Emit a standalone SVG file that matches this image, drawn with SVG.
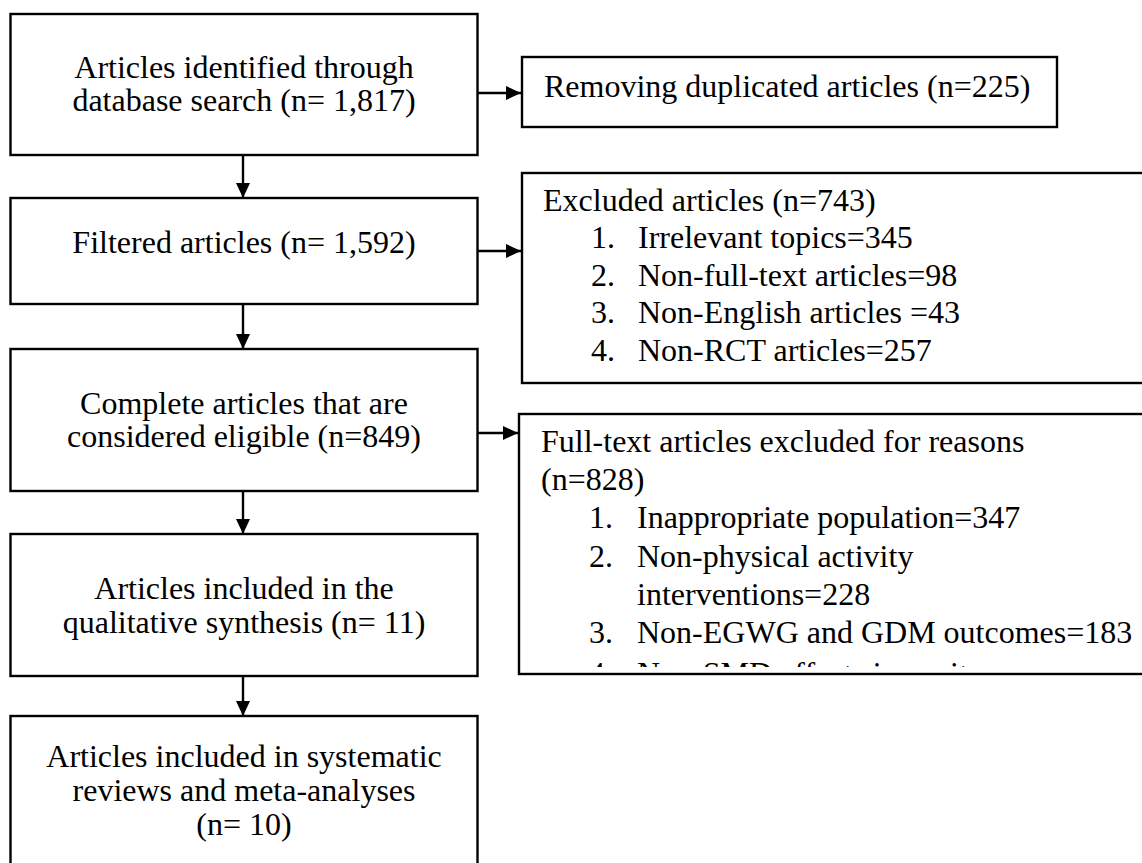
<svg xmlns="http://www.w3.org/2000/svg" width="1142" height="863" viewBox="0 0 1142 863">
<style>
.box{fill:#fff;stroke:#000;stroke-width:2.4}
.t{font-family:"Liberation Serif","Times New Roman",serif;font-size:32px;fill:#000}
.c{text-anchor:middle}
.ln{stroke:#000;stroke-width:2.4;fill:none}
</style>
<defs>
<marker id="ah" markerWidth="15" markerHeight="14" refX="15" refY="7" orient="auto" markerUnits="userSpaceOnUse">
<path d="M0,0 L15,7 L0,14 Z" fill="#000"/>
</marker>
<clipPath id="cut"><rect x="519" y="414" width="640" height="253"/></clipPath>
</defs>
<rect width="1142" height="863" fill="#fff"/>

<g id="connectors">
<line class="ln" x1="243" y1="155" x2="243" y2="198" marker-end="url(#ah)"/>
<line class="ln" x1="243" y1="304" x2="243" y2="349" marker-end="url(#ah)"/>
<line class="ln" x1="243" y1="491" x2="243" y2="534" marker-end="url(#ah)"/>
<line class="ln" x1="243" y1="676" x2="243" y2="716" marker-end="url(#ah)"/>
<line class="ln" x1="478" y1="93" x2="521" y2="93" marker-end="url(#ah)"/>
<line class="ln" x1="478" y1="251" x2="521" y2="251" marker-end="url(#ah)"/>
<line class="ln" x1="478" y1="433" x2="518" y2="433" marker-end="url(#ah)"/>
</g>

<g id="n1">
<rect class="box" x="10.5" y="14" width="467" height="141"/>
<text class="t c" x="244" y="78">Articles identified through</text>
<text class="t c" x="244" y="110.5">database search (n= 1,817)</text>
</g>

<g id="n2">
<rect class="box" x="10.5" y="198" width="467" height="106"/>
<text class="t c" x="244" y="253">Filtered articles (n= 1,592)</text>
</g>

<g id="n3">
<rect class="box" x="10.5" y="349" width="467" height="142"/>
<text class="t c" x="244" y="414">Complete articles that are</text>
<text class="t c" x="244" y="447">considered eligible (n=849)</text>
</g>

<g id="n4">
<rect class="box" x="10.5" y="534" width="467" height="142"/>
<text class="t c" x="244" y="599">Articles included in the</text>
<text class="t c" x="244" y="633">qualitative synthesis (n= 11)</text>
</g>

<g id="n5">
<rect class="box" x="10.5" y="716" width="467" height="170"/>
<text class="t c" x="244" y="767">Articles included in systematic</text>
<text class="t c" x="244" y="801">reviews and meta-analyses</text>
<text class="t c" x="244" y="835">(n= 10)</text>
</g>

<g id="r1">
<rect class="box" x="522" y="57" width="535" height="70"/>
<text class="t" x="544" y="97">Removing duplicated articles (n=225)</text>
</g>

<g id="r2">
<rect class="box" x="522" y="173" width="640" height="210"/>
<text class="t" x="543" y="210.5">Excluded articles (n=743)</text>
<text class="t" x="591" y="248">1.</text><text class="t" x="638" y="248">Irrelevant topics=345</text>
<text class="t" x="591" y="285.5">2.</text><text class="t" x="638" y="285.5">Non-full-text articles=98</text>
<text class="t" x="591" y="323">3.</text><text class="t" x="638" y="323">Non-English articles =43</text>
<text class="t" x="591" y="360.5">4.</text><text class="t" x="638" y="360.5">Non-RCT articles=257</text>
</g>

<g id="r3">
<rect class="box" x="519" y="414" width="640" height="260"/>
<text class="t" x="541" y="452">Full-text articles excluded for reasons</text>
<text class="t" x="541" y="490">(n=828)</text>
<text class="t" x="589" y="528">1.</text><text class="t" x="637" y="528">Inappropriate population=347</text>
<text class="t" x="589" y="567">2.</text><text class="t" x="637" y="567">Non-physical activity</text>
<text class="t" x="637" y="605">interventions=228</text>
<text class="t" x="589" y="643">3.</text><text class="t" x="637" y="643">Non-EGWG and GDM outcomes=183</text>
<g clip-path="url(#cut)">
<text class="t" x="589" y="684">4.</text><text class="t" x="637" y="684">Non-SMD effect size units</text>
</g>
</g>
</svg>
